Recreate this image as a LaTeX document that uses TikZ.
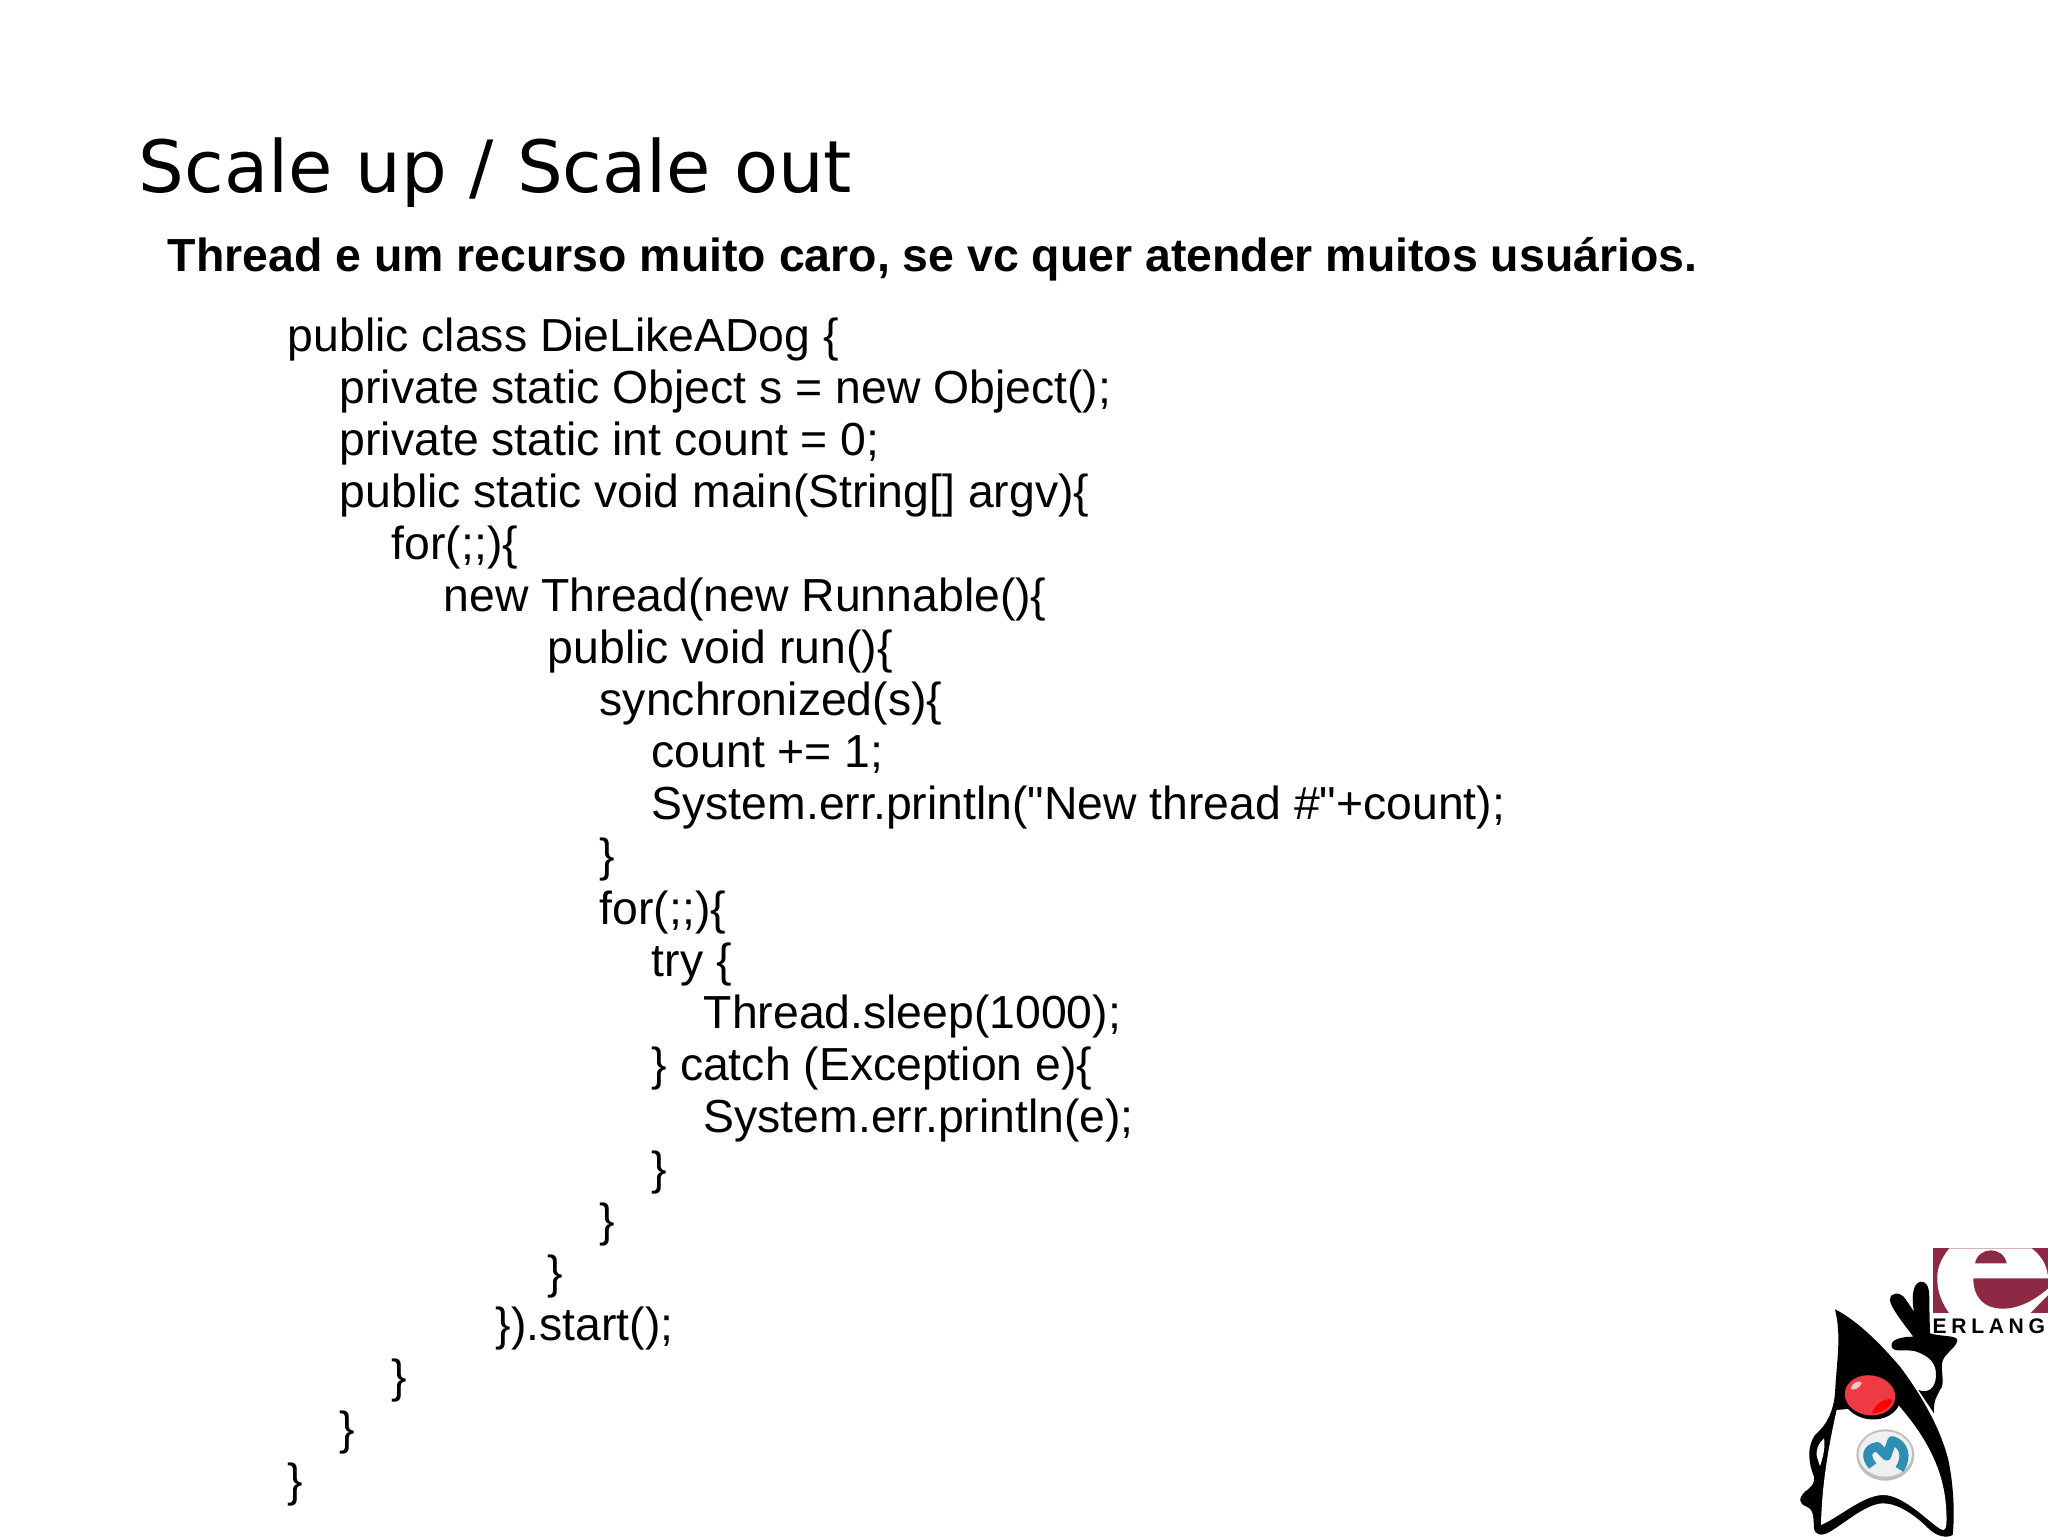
\documentclass[tikz,border=0pt]{standalone}
\usepackage{fontspec}
\setmainfont{Liberation Sans}
\newfontfamily\titlefont{DejaVu Sans}
\newfontfamily\codefont{Liberation Sans}
\usetikzlibrary{calc}

\definecolor{erlangred}{HTML}{8C2A46}
\definecolor{dukered}{HTML}{EE3A44}
\definecolor{muleblue}{HTML}{2E8FB5}

\tikzset{
    codeline/.style={anchor=base west, inner sep=0pt, font=\codefont\fontsize{13.18pt}{15pt}\selectfont},
}

\begin{document}
\begin{tikzpicture}[x=0.01cm, y=-0.01cm]
    \useasboundingbox (0, 0) rectangle (2048, 1537);

    \node[anchor=base west, inner sep=0pt, font=\titlefont\fontsize{20.5pt}{25pt}\selectfont] (title) at (138, 193) {Scale up / Scale out};
    \node[anchor=base west, inner sep=0pt, font=\bfseries\fontsize{13.2pt}{15pt}\selectfont] (subtitle) at (167, 272) {Thread e um recurso muito caro, se vc quer atender muitos usuários.};

    % indent level / text
    \foreach \lvl/\txt [count=\n from 0] in {
        0/{public class DieLikeADog \{},
        1/{private static Object s = new Object();},
        1/{private static int count = 0;},
        1/{public static void main(String[] argv)\{},
        2/{for(;;)\{},
        3/{new Thread(new Runnable()\{},
        5/{public void run()\{},
        6/{synchronized(s)\{},
        7/{count += 1;},
        7/{System.err.println("New thread \#"+count);},
        6/{\}},
        6/{for(;;)\{},
        7/{try \{},
        8/{Thread.sleep(1000);},
        7/{\} catch (Exception e)\{},
        8/{System.err.println(e);},
        7/{\}},
        6/{\}},
        5/{\}},
        4/{\}).start();},
        2/{\}},
        1/{\}},
        0/{\}}}
        \node[codeline] (line\n) at (287 + 52*\lvl, 352 + 52*\n) {\txt};

    % erlang logo
    \begin{scope}[shift={(1740, 1220)}, x=0.01cm/3, y=-0.01cm/3]
        \fill[erlangred] (580, 85) rectangle (924, 280);
        \fill[white] (628, 85) .. controls (600, 120) and (590, 150) .. (592, 180)
            .. controls (592, 220) and (610, 255) .. (628, 280) -- (870, 280)
            -- (924, 225) -- (924, 170)
            .. controls (920, 130) and (900, 105) .. (875, 85) -- cycle;
        \fill[erlangred] (705, 130) .. controls (715, 78) and (790, 78) .. (800, 130) -- cycle;
        \fill[erlangred] (700, 175) -- (924, 175) -- (924, 205)
            .. controls (880, 245) and (830, 266) .. (790, 266)
            .. controls (730, 266) and (700, 230) .. (700, 175) -- cycle;
        \node[inner sep=0pt, anchor=base west, font=\bfseries\fontsize{6pt}{7pt}\selectfont] (erlang) at (576, 341) {\addfontfeature{LetterSpace=22}ERLANG};
    \end{scope}

    % mascot
    \begin{scope}[shift={(1740, 1220)}, x=0.01cm/3, y=-0.01cm/3]
        % body
        \fill[black] (285, 268) .. controls (350, 300) and (420, 370) .. (480, 440)
            .. controls (540, 520) and (600, 620) .. (625, 720)
            .. controls (640, 790) and (645, 880) .. (638, 945)
            .. controls (620, 955) and (590, 950) .. (565, 925)
            .. controls (520, 880) and (470, 850) .. (430, 850)
            .. controls (380, 850) and (320, 905) .. (270, 935)
            .. controls (245, 950) and (225, 945) .. (222, 925)
            .. controls (220, 890) and (222, 870) .. (200, 860)
            .. controls (175, 850) and (175, 835) .. (195, 815)
            .. controls (215, 800) and (225, 790) .. (222, 770)
            .. controls (205, 730) and (200, 680) .. (225, 645)
            .. controls (265, 610) and (280, 570) .. (285, 520)
            .. controls (290, 420) and (305, 350) .. (285, 268) -- cycle;
        \fill[white] (290, 570) .. controls (265, 680) and (245, 800) .. (243, 915)
            .. controls (300, 890) and (370, 825) .. (430, 825)
            .. controls (490, 825) and (560, 900) .. (598, 925)
            .. controls (620, 940) and (622, 920) .. (618, 860)
            .. controls (610, 740) and (550, 640) .. (470, 550)
            -- (400, 560) -- cycle;
        \fill[white] (252, 655) .. controls (235, 670) and (225, 690) .. (232, 715)
            .. controls (236, 725) and (238, 735) .. (240, 738)
            .. controls (250, 710) and (256, 680) .. (252, 655) -- cycle;
        % arm and hand
        \fill[black] (455, 380) .. controls (450, 360) and (480, 350) .. (520, 350)
            .. controls (490, 310) and (450, 260) .. (450, 240)
            .. controls (450, 215) and (480, 215) .. (495, 235)
            -- (522, 275) .. controls (515, 240) and (515, 190) .. (542, 185)
            .. controls (570, 185) and (568, 220) .. (568, 260)
            -- (570, 340) .. controls (600, 350) and (650, 345) .. (652, 360)
            .. controls (650, 385) and (610, 400) .. (606, 430)
            .. controls (604, 470) and (615, 490) .. (600, 510)
            .. controls (590, 530) and (580, 540) .. (582, 580)
            -- (535, 510)
            .. controls (560, 520) and (585, 510) .. (588, 470)
            .. controls (590, 430) and (570, 410) .. (530, 395)
            .. controls (500, 385) and (460, 400) .. (455, 380) -- cycle;
        % nose
        \fill[black, rotate around={-8:(394, 530)}] (394, 530) ellipse (87 and 68);
        \fill[dukered, rotate around={-8:(390, 526)}] (390, 526) ellipse (76 and 60);
        \fill[red] (395, 580) .. controls (405, 550) and (440, 530) .. (458, 540)
            .. controls (450, 565) and (420, 580) .. (395, 580) -- cycle;
        \fill[white!70!dukered] (332, 505) .. controls (335, 485) and (365, 478) .. (365, 490)
            .. controls (360, 505) and (335, 515) .. (332, 505) -- cycle;
        % mule badge
        \fill[black!25] (436, 705) ellipse (87 and 77);
        \fill[black!6] (436, 702) ellipse (80 and 68);
        \draw[muleblue, line width=2.6pt, line join=round]
            (398, 738) .. controls (375, 712) and (378, 685) .. (412, 680)
            -- (440, 708) -- (456, 662) .. controls (490, 670) and (505, 710) .. (478, 748);
    \end{scope}
\end{tikzpicture}
\end{document}
